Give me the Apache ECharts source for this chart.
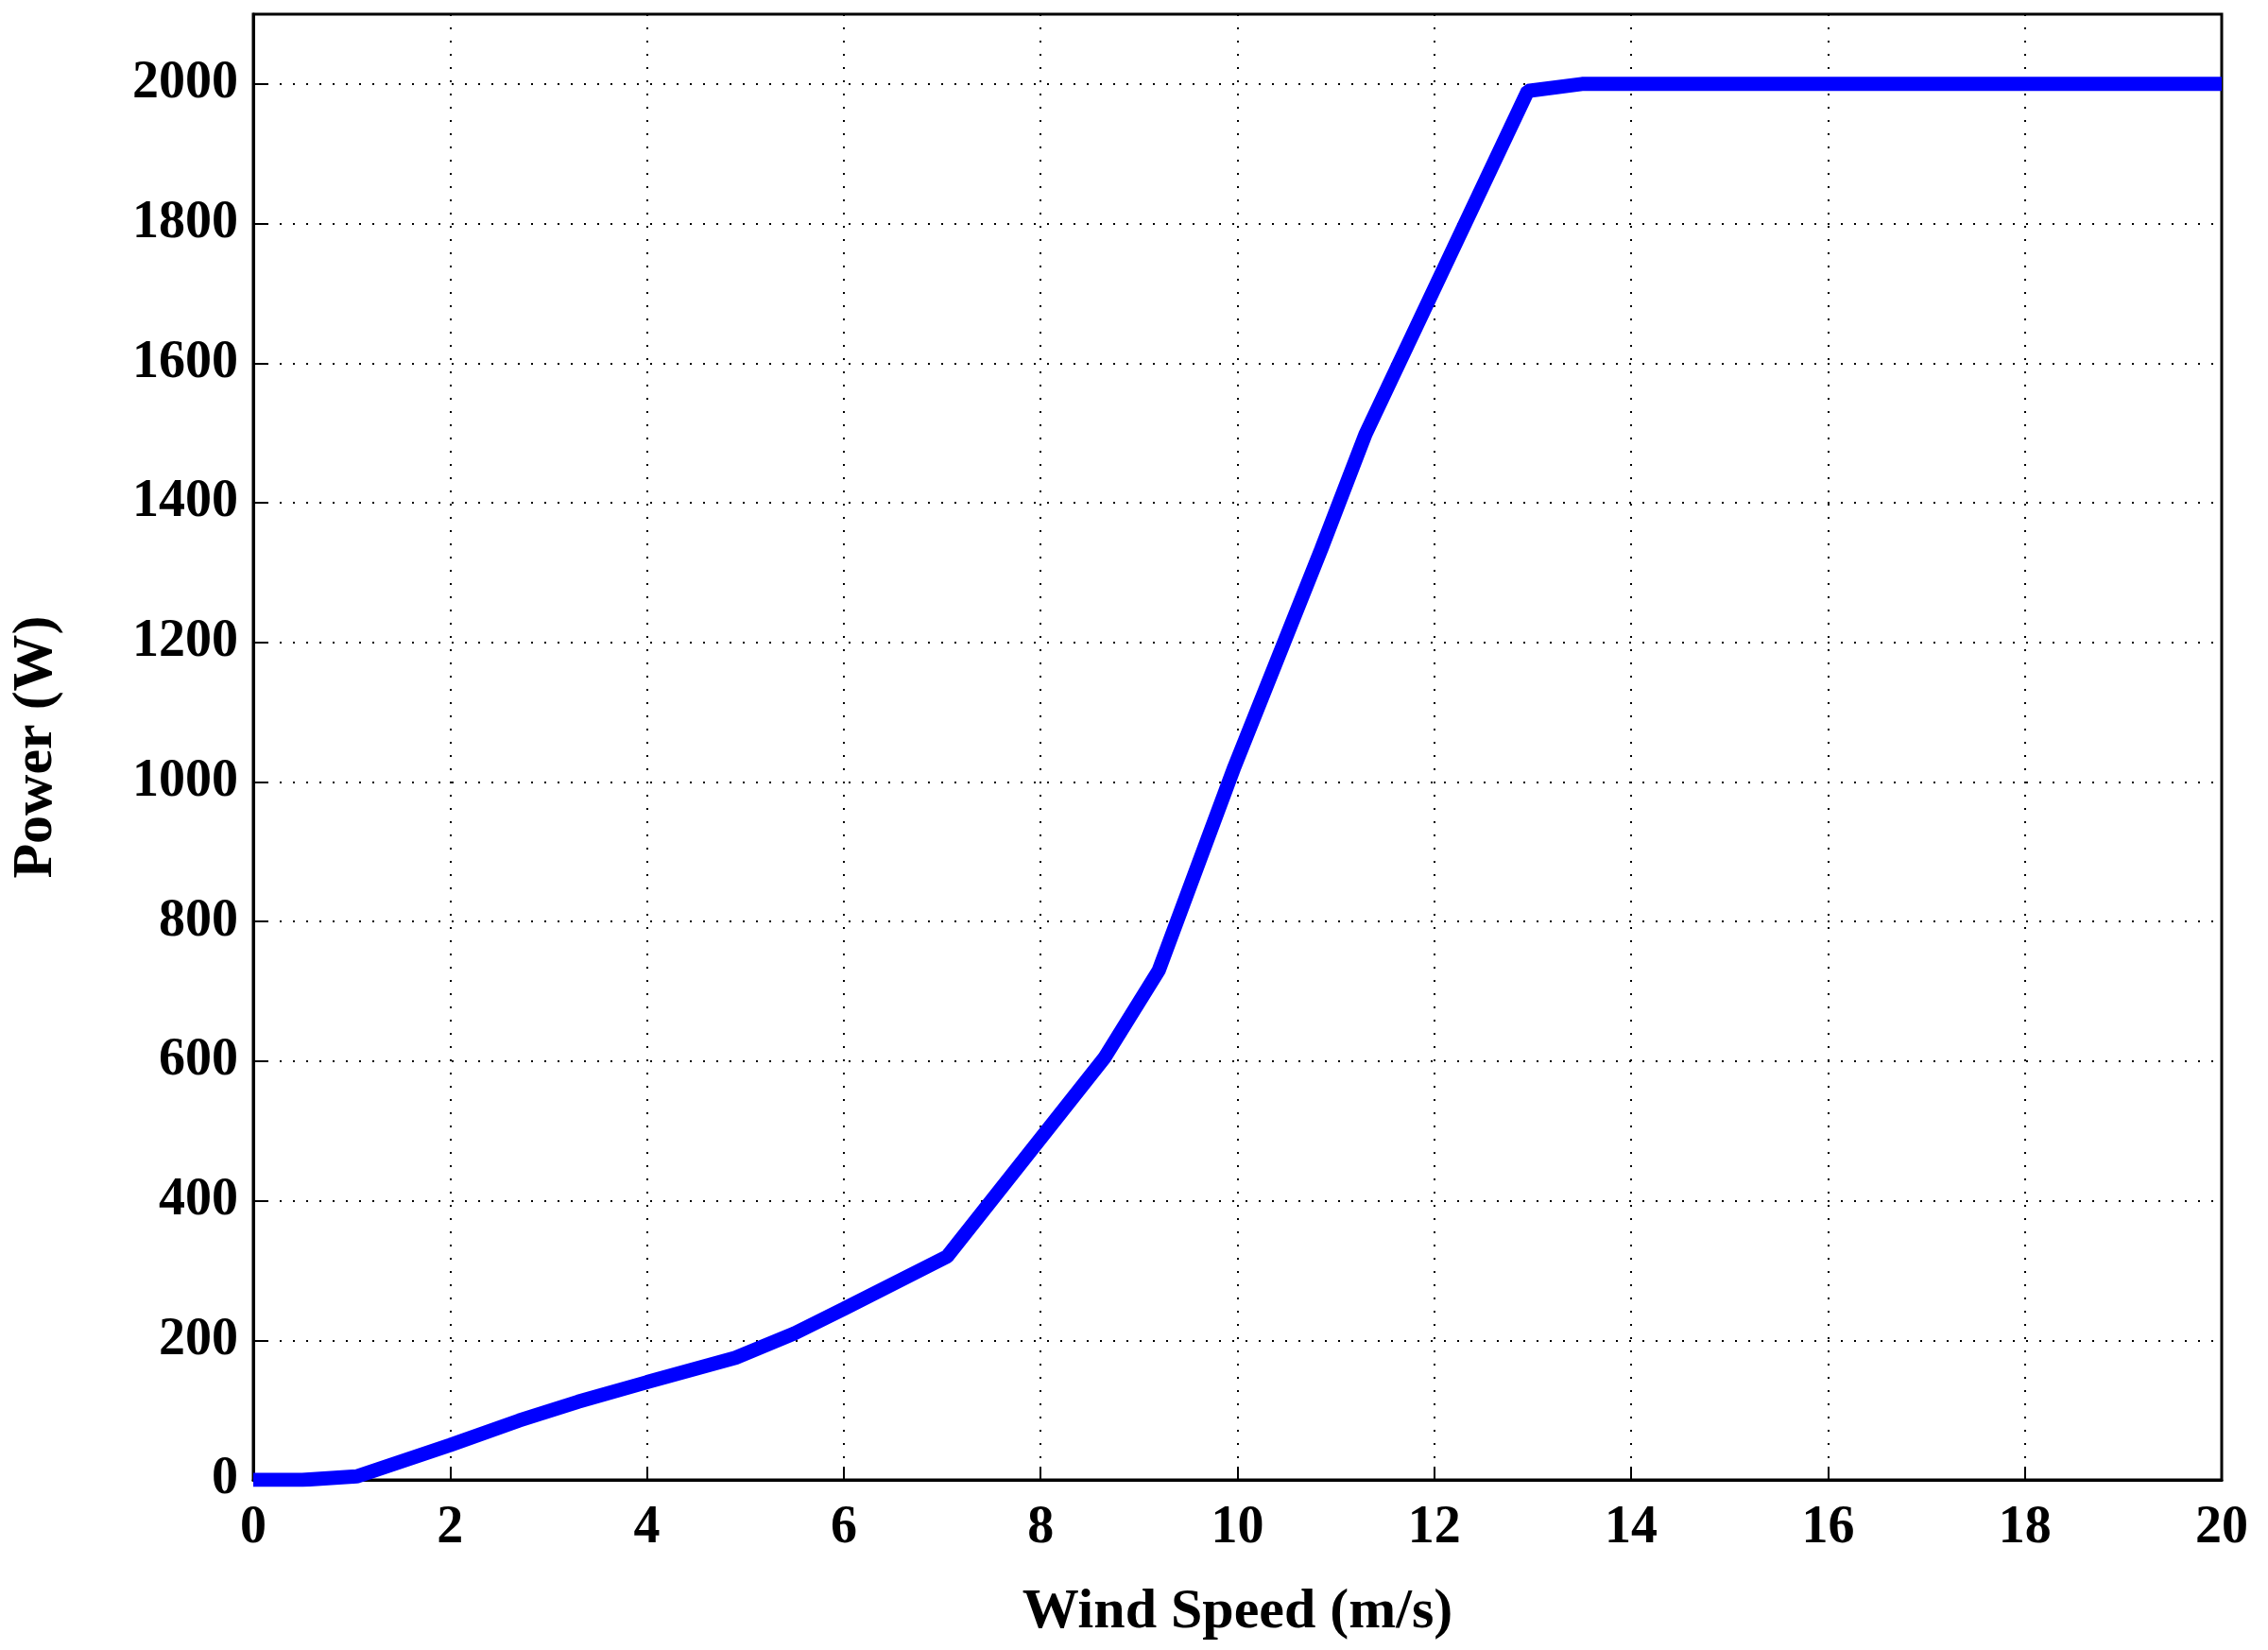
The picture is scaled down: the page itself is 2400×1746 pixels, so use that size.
<!DOCTYPE html>
<html><head><meta charset="utf-8">
<script src="https://cdn.jsdelivr.net/npm/echarts@6/dist/echarts.min.js"></script>
<style>html,body{margin:0;padding:0;background:#fff}#c{width:2400px;height:1746px}</style>
</head><body><div id="c"></div>
<script>
const windSpeed = [0, 0.5, 1.05, 2, 2.7, 3.3, 4, 4.9, 5.5, 6, 7.05, 8.65, 9.2, 9.97, 10.85, 11.3, 12.95, 13.5, 20];
const power =     [0, 0, 5, 50, 85, 112, 140, 175, 210, 245, 320, 605, 730, 1022, 1333, 1498, 1990, 2000, 2000];
const xTicks = [0, 2, 4, 6, 8, 10, 12, 14, 16, 18, 20];
const yTicks = [0, 200, 400, 600, 800, 1000, 1200, 1400, 1600, 1800, 2000];
const font = 'Liberation Serif';
const chart = echarts.init(document.getElementById('c'));
const tickStyle = {fontFamily: font, fontWeight: 'bold', fontSize: 56, color: '#000'};
chart.setOption({
  animation: false,
  grid: {left: 260, right: 49, top: 15, bottom: 180, show: true, borderColor: '#000', borderWidth: 3},
  xAxis: {
    type: 'value', min: 0, max: 20, interval: 2,
    name: 'Wind Speed (m/s)', nameLocation: 'middle', nameGap: 110,
    nameTextStyle: {fontFamily: font, fontWeight: 'bold', fontSize: 60, color: '#000'},
    axisLine: {lineStyle: {color: '#000', width: 3}},
    axisTick: {inside: true, length: 14, lineStyle: {color: '#000', width: 2}},
    axisLabel: Object.assign({margin: 24}, tickStyle),
    splitLine: {show: true, lineStyle: {color: '#000', type: [2, 12], width: 2}}
  },
  yAxis: {
    type: 'value', min: 0, max: 2100, interval: 200,
    name: 'Power (W)', nameLocation: 'middle', nameGap: 200, nameRotate: 90,
    nameTextStyle: {fontFamily: font, fontWeight: 'bold', fontSize: 60, color: '#000'},
    axisLine: {lineStyle: {color: '#000', width: 3}},
    axisTick: {inside: true, length: 14, lineStyle: {color: '#000', width: 2}},
    axisLabel: Object.assign({margin: 16, formatter: v => yTicks.includes(v) ? String(v) : ''}, tickStyle),
    splitLine: {show: true, lineStyle: {color: '#000', type: [2, 12], width: 2}}
  },
  series: [{
    type: 'line', data: windSpeed.map((x, i) => [x, power[i]]),
    showSymbol: false, lineStyle: {color: '#0000ff', width: 15}, clip: true
  }]
});
</script></body></html>
